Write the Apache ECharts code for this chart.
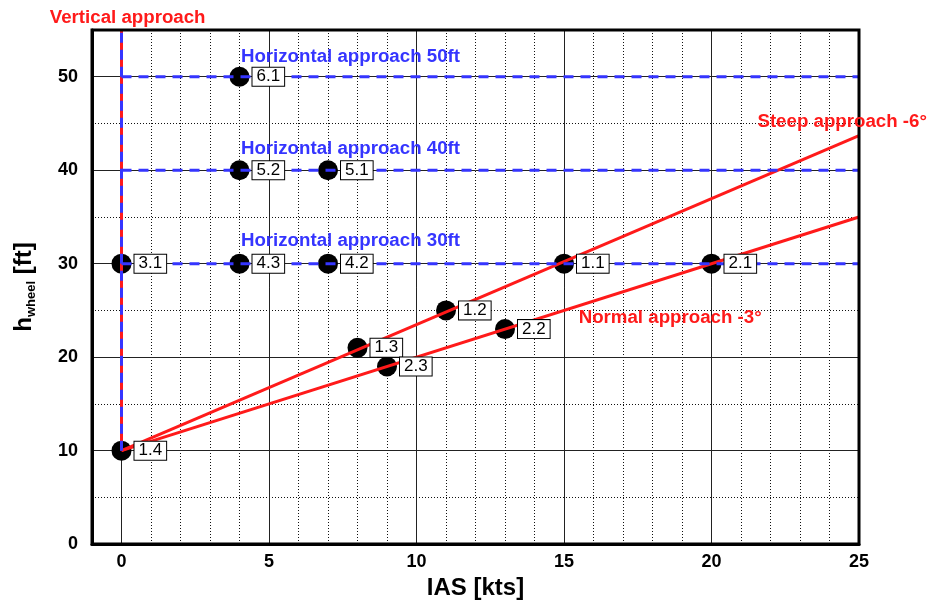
<!DOCTYPE html>
<html>
<head>
<meta charset="utf-8">
<title>Approach paths</title>
<script src="https://cdn.jsdelivr.net/npm/echarts@6/dist/echarts.min.js"></script>
<style>
  html, body { margin: 0; padding: 0; background: #fff; }
  #chart { width: 927px; height: 605px; }
</style>
</head>
<body>
<div id="chart"></div>
<script>
// axis ticks
const xTicks = [0, 5, 10, 15, 20, 25]
const yTicks = [0, 10, 20, 30, 40, 50]

// test points
const pointIas = [4, 4, 7, 4, 7, 0, 15, 20, 11, 13, 8, 9, 0]
const pointH = [50, 40, 40, 30, 30, 30, 30, 30, 25, 23, 21, 19, 10]
const pointNames = ['6.1', '5.2', '5.1', '4.3', '4.2', '3.1', '1.1', '2.1', '1.2', '2.2', '1.3', '2.3', '1.4']

// reference paths
const steepIas = [0, 25]
const steepH = [10, 43.7]
const normalIas = [0, 25]
const normalH = [10, 35]
const verticalIas = [0, 0]
const verticalH = [10, 55]
const horizIas = [0, 25]
const horizLevels = [30, 40, 50]

const RED = '#ff1a1a'
const BLUE = '#3535ff'
const FONT = '"Liberation Sans", Arial, sans-serif'

const zip = (xs, ys) => xs.map((x, i) => [x, ys[i]])

// text notes, anchored in data coordinates (left edge, vertical middle)
const notes = [
  { text: 'Vertical approach', at: [-2.45, 56.3], color: RED },
  { text: 'Horizontal approach 50ft', at: [4.03, 52.1], color: BLUE },
  { text: 'Horizontal approach 40ft', at: [4.03, 42.3], color: BLUE },
  { text: 'Horizontal approach 30ft', at: [4.03, 32.4], color: BLUE },
  { text: 'Steep approach -6°', at: [21.54, 45.2], color: RED },
  { text: 'Normal approach -3°', at: [15.48, 24.2], color: RED }
]

const chart = echarts.init(document.getElementById('chart'))

const majorLine = { show: true, lineStyle: { color: '#222', width: 1, type: 'solid' } }
const minorLine = { show: true, lineStyle: { color: '#111', width: 1, type: [1, 2] } }

const series = [
  {
    type: 'scatter',
    data: zip(pointIas, pointH),
    symbolSize: 20,
    itemStyle: { color: '#000', opacity: 1 },
    z: 2
  },
  {
    type: 'line',
    data: zip(steepIas, steepH),
    symbol: 'none',
    lineStyle: { color: RED, width: 3 },
    z: 3
  },
  {
    type: 'line',
    data: zip(normalIas, normalH),
    symbol: 'none',
    lineStyle: { color: RED, width: 3 },
    z: 3
  },
  {
    type: 'line',
    data: zip(verticalIas, verticalH),
    symbol: 'none',
    lineStyle: { color: RED, width: 3 },
    z: 3
  },
  {
    type: 'line',
    data: zip(verticalIas, verticalH),
    symbol: 'none',
    lineStyle: { color: BLUE, width: 3, type: [10, 7] },
    z: 4
  }
]

horizLevels.forEach(h => {
  series.push({
    type: 'line',
    data: zip(horizIas, horizIas.map(() => h)),
    symbol: 'none',
    lineStyle: { color: BLUE, width: 3, type: [10, 7] },
    z: 4
  })
})

// boxed point labels above the lines
series.push({
  type: 'scatter',
  data: pointIas.map((x, i) => ({ value: [x, pointH[i]], name: pointNames[i] })),
  symbolSize: 20,
  itemStyle: { color: 'rgba(0,0,0,0)', opacity: 1 },
  label: {
    show: true,
    position: 'right',
    distance: 3,
    formatter: p => p.name,
    color: '#000',
    fontFamily: FONT,
    fontSize: 17,
    lineHeight: 17,
    backgroundColor: '#fff',
    borderColor: '#000',
    borderWidth: 1,
    padding: [1, 4, 0, 4]
  },
  z: 6
})

series.push({
  type: 'scatter',
  clip: false,
  symbolSize: 1,
  itemStyle: { color: 'rgba(0,0,0,0)', opacity: 1 },
  data: notes.map(n => ({
    value: n.at,
    name: n.text,
    label: { color: n.color }
  })),
  label: {
    show: true,
    position: 'right',
    distance: 0,
    formatter: p => p.name,
    fontFamily: FONT,
    fontWeight: 'bold',
    fontSize: 18.7
  },
  z: 6
})

const option = {
  animation: false,
  backgroundColor: '#fff',
  grid: {
    left: 92,
    right: 68,
    top: 30,
    bottom: 53,
    show: true,
    borderColor: '#000',
    borderWidth: 3,
    backgroundColor: 'transparent',
    z: 5
  },
  xAxis: [
    {
      type: 'value',
      min: -1,
      max: 25,
      z: 2,
      name: 'IAS [kts]',
      nameLocation: 'middle',
      nameGap: 24,
      nameTextStyle: { fontFamily: FONT, fontWeight: 'bold', fontSize: 24, color: '#000' },
      axisLine: { show: true, onZero: false, lineStyle: { color: '#000', width: 3 } },
      axisTick: { show: false, customValues: xTicks },
      axisLabel: { customValues: xTicks, fontFamily: FONT, fontWeight: 'bold', fontSize: 18, color: '#000', margin: 9 },
      splitLine: majorLine
    },
    {
      type: 'value',
      min: -1,
      max: 25,
      interval: 1,
      z: 1,
      axisLine: { show: false, onZero: false },
      axisTick: { show: false },
      axisLabel: { show: false },
      splitLine: minorLine
    }
  ],
  yAxis: [
    {
      type: 'value',
      min: 0,
      max: 55,
      z: 2,
      name: '{h|h}{s|wheel}{h| [ft]}',
      nameLocation: 'middle',
      nameGap: 54,
      nameTextStyle: {
        color: '#000',
        rich: {
          h: { fontFamily: FONT, fontWeight: 'bold', fontSize: 24, color: '#000' },
          s: { fontFamily: FONT, fontWeight: 'bold', fontSize: 13, color: '#000', padding: [14, 0, 0, 0] }
        }
      },
      axisLine: { show: true, onZero: false, lineStyle: { color: '#000', width: 3 } },
      axisTick: { show: false, customValues: yTicks },
      axisLabel: { customValues: yTicks, fontFamily: FONT, fontWeight: 'bold', fontSize: 18, color: '#000', margin: 14 },
      splitLine: majorLine
    },
    {
      type: 'value',
      min: 0,
      max: 55,
      interval: 5,
      z: 1,
      axisLine: { show: false, onZero: false },
      axisTick: { show: false },
      axisLabel: { show: false },
      splitLine: minorLine
    }
  ],
  series: series
}

chart.setOption(option)
</script>
</body>
</html>
